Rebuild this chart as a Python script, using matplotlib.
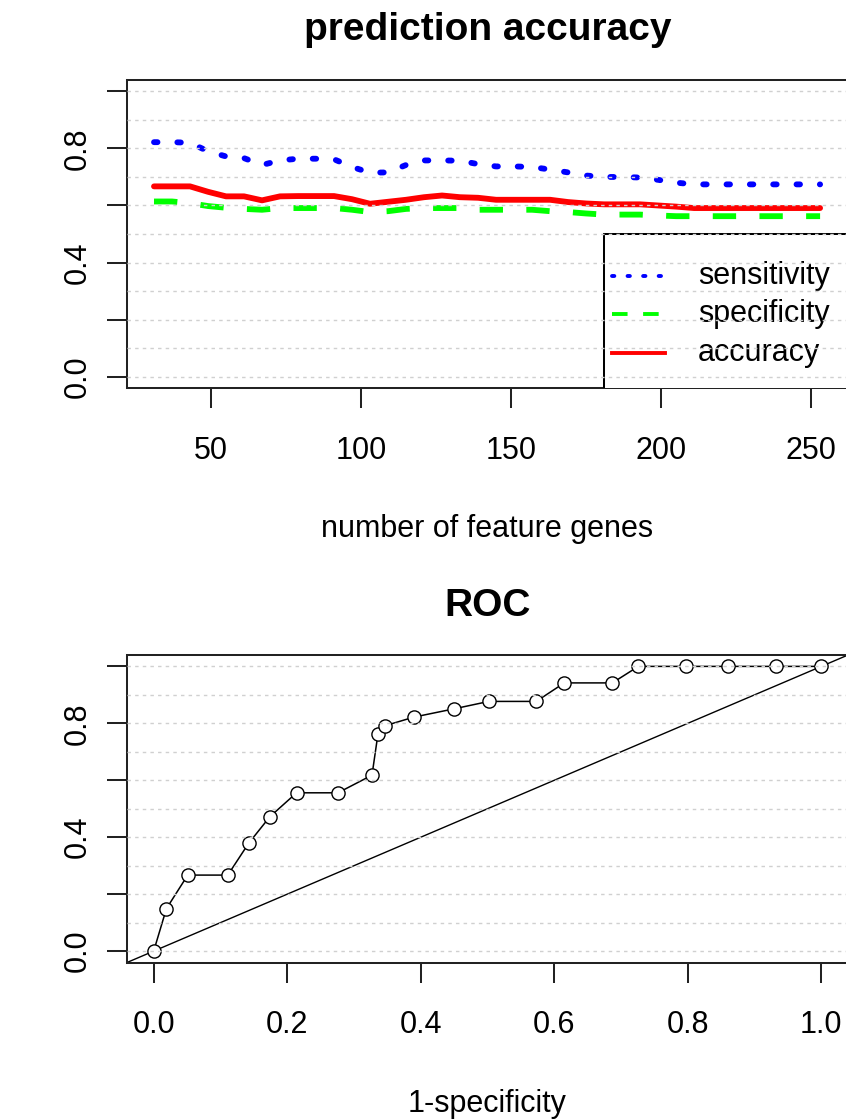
import matplotlib.pyplot as plt
import matplotlib.patches as patches
import numpy as np

plt.rcParams['font.family'] = ['Liberation Sans', 'DejaVu Sans']

# prediction accuracy against number of feature genes
n_genes = [31, 37, 43, 49, 55, 61, 67, 73, 79, 85, 91, 97, 103, 109, 115, 121, 127, 133, 139,
           145, 151, 157, 163, 169, 175, 181, 187, 193, 199, 205, 211, 217, 223, 229, 235, 241, 247, 253]
sensitivity = [0.822, 0.822, 0.820, 0.790, 0.772, 0.766, 0.742, 0.758, 0.764, 0.764, 0.762, 0.735, 0.715,
               0.716, 0.742, 0.758, 0.758, 0.757, 0.745, 0.737, 0.737, 0.735, 0.726, 0.716, 0.705, 0.700,
               0.700, 0.698, 0.690, 0.680, 0.674, 0.674, 0.674, 0.674, 0.674, 0.674, 0.674, 0.674]
specificity = [0.614, 0.614, 0.608, 0.598, 0.592, 0.588, 0.585, 0.591, 0.591, 0.591, 0.591, 0.585, 0.577,
               0.580, 0.588, 0.591, 0.591, 0.591, 0.585, 0.585, 0.585, 0.585, 0.580, 0.577, 0.572, 0.568,
               0.568, 0.568, 0.565, 0.5625, 0.5625, 0.5625, 0.5625, 0.5625, 0.5625, 0.5625, 0.5625, 0.5625]
accuracy = [0.667, 0.667, 0.667, 0.648, 0.632, 0.632, 0.618, 0.632, 0.633, 0.633, 0.633, 0.622, 0.606,
            0.613, 0.620, 0.629, 0.635, 0.629, 0.627, 0.620, 0.620, 0.620, 0.620, 0.612, 0.607, 0.604,
            0.604, 0.604, 0.600, 0.596, 0.591, 0.591, 0.591, 0.591, 0.591, 0.591, 0.591, 0.591]

series_names = ['sensitivity', 'specificity', 'accuracy']
series_colors = ['#0000FF', '#00FF00', '#FF0000']
series_dashes = [(0, (0.6, 3.4)), (0, (4, 4)), '-']
series_caps = ['round', 'butt', 'round']

# ROC curve points
fpr = [0.0, 0.019, 0.051, 0.111, 0.142, 0.174, 0.214, 0.276, 0.327, 0.336, 0.347, 0.390,
       0.450, 0.502, 0.573, 0.615, 0.687, 0.726, 0.798, 0.860, 0.932, 1.0]
tpr = [0.0, 0.149, 0.267, 0.267, 0.378, 0.472, 0.556, 0.556, 0.618, 0.764, 0.792, 0.822,
       0.851, 0.877, 0.877, 0.942, 0.942, 1.0, 1.0, 1.0, 1.0, 1.0]

W, H = 846, 1120


def fx(px):
    return px / W


def fy(py):
    return 1 - py / H


fig = plt.figure(figsize=(W / 100, H / 100), dpi=100)
ax1 = fig.add_axes([fx(127), fy(388), (848 - 127) / W, 308 / H])
ax2 = fig.add_axes([fx(127), fy(962.5), (848 - 127) / W, 307.5 / H])


def style_axes(ax):
    for s in ax.spines.values():
        s.set_linewidth(1.45)
        s.set_color('#222222')
    ax.tick_params(direction='out', length=14.4, width=1.45, colors='#222222',
                   labelsize=22, labelcolor='black')
    ax.tick_params(axis='x', pad=20)
    ax.tick_params(axis='y', pad=10)
    # horizontal dotted grid drawn on top, as in the original
    for v in np.arange(0, 1.01, 0.1):
        ax.axhline(v, color='#D0D0D0', lw=1.0, linestyle=(0, (2.5, 3)), zorder=10)
    ax.set_ylim(-0.04, 1.04)
    ax.set_yticks([0, 0.2, 0.4, 0.6, 0.8, 1.0])
    ax.set_yticklabels(['0.0', '', '0.4', '', '0.8', ''])
    for lbl in ax.get_yticklabels():
        lbl.set_rotation(90)
        lbl.set_va('center')


# top panel
lw_main = 4.2
for vals, c, ls, cap in zip([sensitivity, specificity, accuracy], series_colors, series_dashes, series_caps):
    ax1.plot(n_genes, vals, color=c, lw=lw_main, linestyle=ls, dash_capstyle=cap,
             solid_capstyle='round', solid_joinstyle='round', zorder=3)
ax1.set_xlim(22, 262.3)
ax1.set_xticks([50, 100, 150, 200, 250])
style_axes(ax1)

# legend box (extends past the right edge, clipped by the axes)
ax1.add_patch(patches.Rectangle((181, -0.3), 200, 0.8, facecolor='white',
                                edgecolor='black', lw=1.45, zorder=4))
leg_rows = [0.354, 0.218, 0.084]
for name, c, ls, cap, yr in zip(series_names, series_colors, series_dashes, series_caps, leg_rows):
    ax1.plot([183.7, 201.3], [yr, yr], color=c, lw=lw_main * 2 / 3, linestyle=ls,
             dash_capstyle=cap, zorder=5)
    ax1.text(212.3, yr, name, fontsize=22, va='center', ha='left', zorder=5)

# bottom panel
ax2.axline((0, 0), slope=1, color='black', lw=1.0, zorder=2)
ax2.plot(fpr, tpr, color='black', lw=1.1, marker='o', ms=9.5, mfc='white',
         mec='black', mew=1.0, zorder=3)
ax2.set_xlim(-0.04, 1.04)
ax2.set_xticks([0, 0.2, 0.4, 0.6, 0.8, 1.0])
ax2.set_xticklabels(['0.0', '0.2', '0.4', '0.6', '0.8', '1.0'])
style_axes(ax2)

# titles and axis labels
cx = fx(487.5)
fig.text(cx, fy(40), 'prediction accuracy', ha='center', va='baseline', fontsize=28, fontweight='bold')
fig.text(cx, fy(537), 'number of feature genes', ha='center', va='baseline', fontsize=22)
fig.text(cx, fy(616), 'ROC', ha='center', va='baseline', fontsize=28, fontweight='bold')
fig.text(cx, fy(1112), '1-specificity', ha='center', va='baseline', fontsize=22)

fig.savefig('out.png', dpi=100)
